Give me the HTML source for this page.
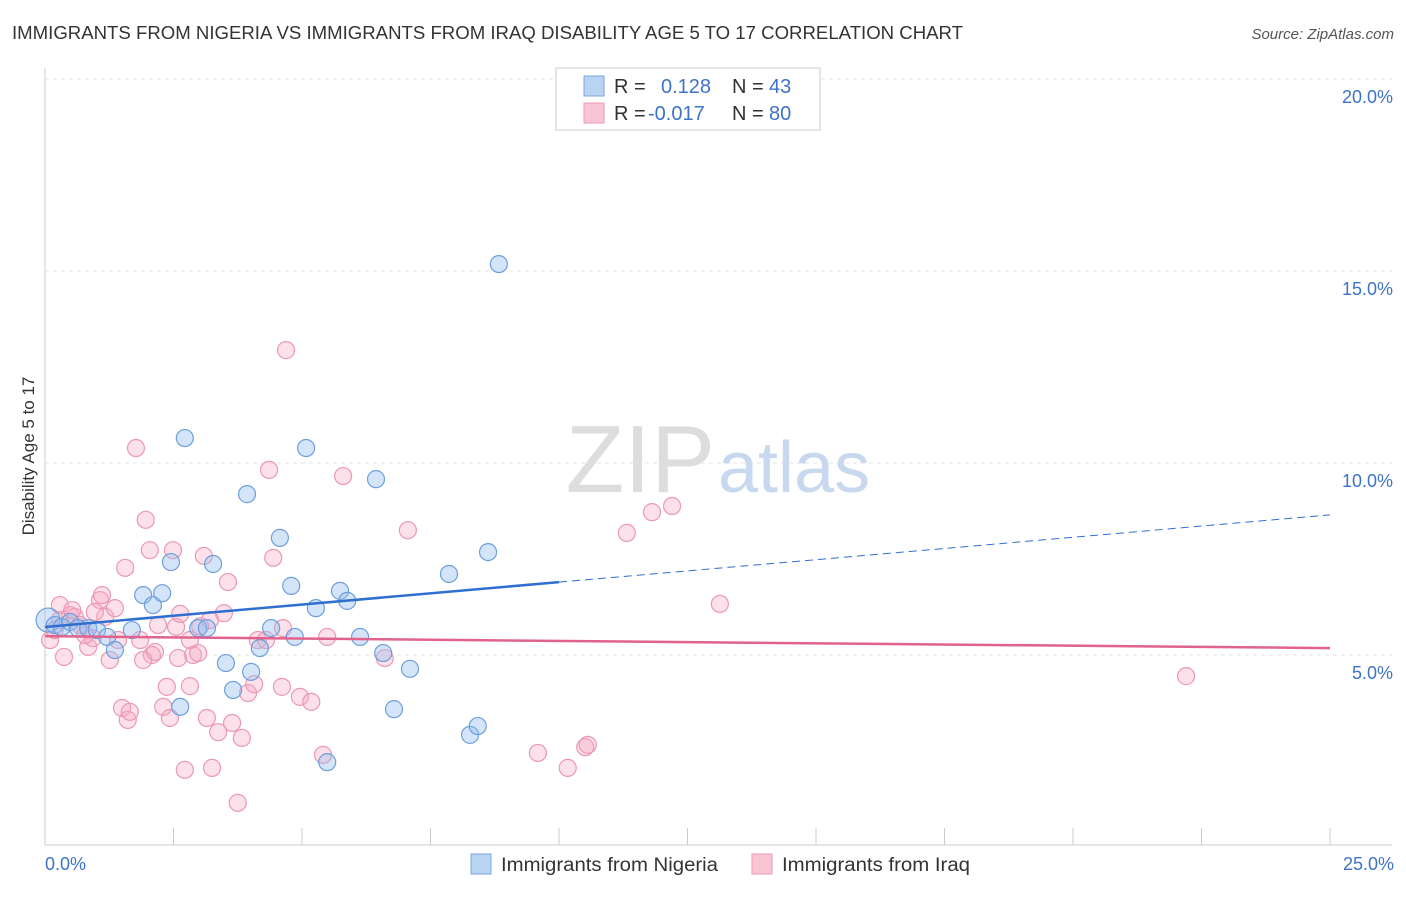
<!DOCTYPE html>
<html><head><meta charset="utf-8"><style>
body{margin:0;background:#fff;font-family:"Liberation Sans",sans-serif}
svg text{font-family:"Liberation Sans",sans-serif}
</style></head><body>
<svg width="1406" height="892" xmlns="http://www.w3.org/2000/svg">
<text x="12" y="39" font-size="18" fill="#333" textLength="951" lengthAdjust="spacingAndGlyphs">IMMIGRANTS FROM NIGERIA VS IMMIGRANTS FROM IRAQ DISABILITY AGE 5 TO 17 CORRELATION CHART</text>
<text x="1394" y="39" font-size="15" fill="#555" font-style="italic" text-anchor="end">Source: ZipAtlas.com</text>
<g id="grid"></g>
<text x="715" y="492" font-size="96" fill="#ddd" text-anchor="end" font-family="Liberation Serif">ZIP</text>
<text x="718" y="492" font-size="72" fill="#c8d8ee">atlas</text>
<line x1="45" y1="68" x2="45" y2="845" stroke="#ccc"/>
<line x1="45" y1="845" x2="1392" y2="845" stroke="#ccc"/>
<text transform="translate(34,456) rotate(-90)" font-size="17" fill="#333" text-anchor="middle">Disability Age 5 to 17</text>
<text x="45" y="870" font-size="18" fill="#3d73c8">0.0%</text>
<text x="1394" y="870" font-size="18" fill="#3d73c8" text-anchor="end">25.0%</text>
<g id="pts"></g>
<g id="trends"></g>
<g>
<rect x="556" y="68" width="264" height="62" fill="#fff" stroke="#ccc"/>
<rect x="584" y="76" width="20" height="20" fill="#b9d3f3" stroke="#7aa6e0"/>
<rect x="584" y="103" width="20" height="20" fill="#f9c4d4" stroke="#ee9ab4"/>
<text x="614" y="93" font-size="20" fill="#333">R =</text>
<text x="661" y="93" font-size="20" fill="#3d73c8">0.128</text>
<text x="732" y="93" font-size="20" fill="#333">N =</text>
<text x="769" y="93" font-size="20" fill="#3d73c8">43</text>
<text x="614" y="120" font-size="20" fill="#333">R =</text>
<text x="648" y="120" font-size="20" fill="#3d73c8">-0.017</text>
<text x="732" y="120" font-size="20" fill="#333">N =</text>
<text x="769" y="120" font-size="20" fill="#3d73c8">80</text>
</g>
<g>
<rect x="471" y="854" width="20" height="20" fill="#b9d3f3" stroke="#7aa6e0"/>
<text x="501" y="871" font-size="19" fill="#333" textLength="217" lengthAdjust="spacingAndGlyphs">Immigrants from Nigeria</text>
<rect x="752" y="854" width="20" height="20" fill="#f9c4d4" stroke="#ee9ab4"/>
<text x="782" y="871" font-size="19" fill="#333" textLength="188" lengthAdjust="spacingAndGlyphs">Immigrants from Iraq</text>
</g>
</svg>
<script>
const yTicks=[5,10,15,20];
const yTickLabels=["5.0%","10.0%","15.0%","20.0%"];
const xTicks=[0,2.5,5,7.5,10,12.5,15,17.5,20,22.5,25];
const nigeriaX=[0.06,0.19,0.33,0.49,0.64,0.84,1.01,1.21,1.36,1.69,1.91,2.10,2.28,2.45,2.63,2.72,2.98,3.15,3.27,3.52,3.66,3.93,4.01,4.18,4.40,4.57,4.79,4.86,5.08,5.27,5.49,5.74,5.88,6.13,6.44,6.58,6.79,7.10,7.86,8.27,8.42,8.62,8.83];
const nigeriaY=[5.91,5.78,5.73,5.86,5.70,5.70,5.65,5.47,5.13,5.65,6.56,6.30,6.61,7.42,3.65,10.65,5.70,5.70,7.37,4.79,4.09,9.19,4.56,5.18,5.70,8.05,6.80,5.47,10.39,6.22,2.21,6.67,6.41,5.47,9.58,5.05,3.59,4.64,7.11,2.92,3.15,7.68,15.18];
const iraqX=[0.10,0.19,0.29,0.37,0.49,0.58,0.68,0.84,0.93,1.07,1.17,1.26,1.36,1.56,1.50,1.61,1.65,1.77,1.85,1.96,2.04,2.08,2.14,2.20,2.30,2.37,2.43,2.49,2.55,2.63,2.72,2.82,2.88,2.98,3.09,3.15,3.25,3.37,3.48,3.56,3.64,3.75,3.83,3.95,4.07,4.14,4.30,4.36,4.44,4.61,4.63,4.69,4.96,5.18,5.41,5.49,5.80,6.61,7.06,9.59,10.17,10.51,10.56,11.32,11.81,12.20,13.13,22.20,0.29,0.53,0.78,0.97,1.11,1.42,1.91,2.59,2.82,3.02,3.21];
const iraqY=[5.39,5.65,5.91,4.95,6.04,5.99,5.78,5.21,5.44,6.43,5.99,4.87,6.22,7.27,3.62,3.31,3.52,10.39,5.39,8.52,7.73,5.00,5.08,5.78,3.65,4.17,3.36,7.73,5.73,6.07,2.01,4.19,5.00,5.05,7.58,3.36,2.06,2.99,6.09,6.90,3.23,1.15,2.84,4.01,4.24,5.39,5.39,9.82,7.53,4.17,5.70,12.94,3.91,3.78,2.40,5.47,9.66,4.92,8.25,2.45,2.06,2.60,2.66,8.18,8.72,8.88,6.33,4.45,6.30,6.17,5.52,6.12,6.56,5.39,4.87,4.92,5.39,5.75,5.91];
const nigeriaTrend=[5.73,8.65];
const iraqTrend=[5.49,5.18];
const NS="http://www.w3.org/2000/svg";
const sx=v=>45+v/25*1285, sy=v=>847-v/5*192;
function mk(t,a,p){const e=document.createElementNS(NS,t);for(const k in a)e.setAttribute(k,a[k]);p.appendChild(e);return e;}
const grid=document.getElementById('grid');
yTicks.forEach((t,i)=>{
 const l=mk('line',{x1:45,x2:1392,y1:sy(t),y2:sy(t),stroke:'#e3e3e3','stroke-dasharray':'4,4'},grid);
 
 
 const tx=mk('text',{x:1393,y:sy(t)+24,'font-size':18,fill:'#3d73c8','text-anchor':'end'},grid);
 tx.textContent=yTickLabels[i];
 
 
});
xTicks.forEach(t=>{
 const l=mk('line',{x1:sx(t),x2:sx(t),y1:828,y2:845,stroke:'#ccc'},grid);
 
 
});
const pts=document.getElementById('pts');
iraqX.forEach((x,i)=>{
 const c=mk('circle',{cx:sx(x),cy:sy(iraqY[i]),r:8.5,fill:'rgba(246,168,194,0.35)',stroke:'#eb98b3','stroke-width':1.2},pts);
 
 
});
nigeriaX.forEach((x,i)=>{
 const c=mk('circle',{cx:sx(x),cy:sy(nigeriaY[i]),r:i==0?12:8.5,fill:'rgba(150,190,240,0.4)',stroke:'#6d9fdc','stroke-width':1.2},pts);
 
 
});
const tr=document.getElementById('trends');
const nAt=x=>nigeriaTrend[0]+(nigeriaTrend[1]-nigeriaTrend[0])*x/25;
let a=mk('line',{x1:sx(0),y1:sy(nAt(0)),x2:sx(10),y2:sy(nAt(10)),stroke:'#2f6fd0','stroke-width':2.5},tr);


a=mk('line',{x1:sx(10),y1:sy(nAt(10)),x2:sx(25),y2:sy(nAt(25)),stroke:'#2f6fd0','stroke-width':1,'stroke-dasharray':'8,5'},tr);


a=mk('line',{x1:sx(0),y1:sy(iraqTrend[0]),x2:sx(25),y2:sy(iraqTrend[1]),stroke:'#e0628f','stroke-width':2.5},tr);


</script>
</body></html>
